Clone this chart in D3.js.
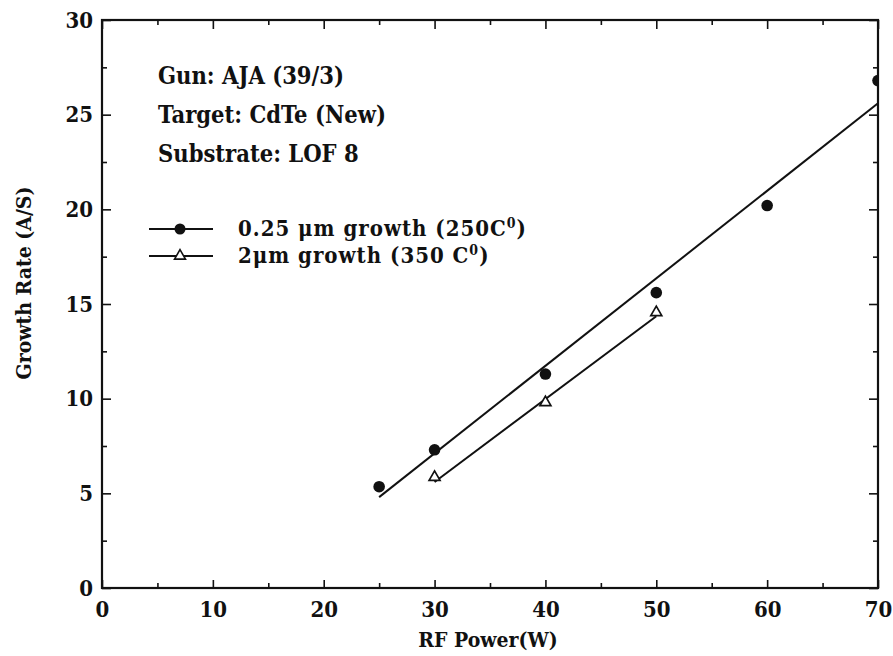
<!DOCTYPE html>
<html>
<head>
<meta charset="utf-8">
<script src="https://cdn.jsdelivr.net/npm/d3@7"></script>
<style>
  body { margin: 0; background: white; }
  text { font-family: "DejaVu Serif Condensed", "DejaVu Serif", serif; font-weight: bold; font-stretch: condensed; fill: #111; }
</style>
</head>
<body>
<div id="chart"></div>
<script>

// measured points
var powerThin = [25, 30, 40, 50, 60, 70];
var rateThin = [5.35, 7.3, 11.3, 15.6, 20.2, 26.8];

var powerThick = [30, 40, 50];
var rateThick = [5.85, 9.8, 14.55];

// fitted lines (end points)
var fitThinX = [25, 70];
var fitThinY = [4.8, 25.6];
var fitThickX = [30, 50];
var fitThickY = [5.6, 14.35];

var xMajor = [0, 10, 20, 30, 40, 50, 60, 70];
var xMinor = [5, 15, 25, 35, 45, 55, 65];
var yMajor = [0, 5, 10, 15, 20, 25, 30];
var yMinor = [2.5, 7.5, 12.5, 17.5, 22.5, 27.5];

var notes = ["Gun: AJA (39/3)", "Target: CdTe (New)", "Substrate: LOF 8"];


var width = 893, height = 656;
var margin = {left: 102, right: 15, top: 20, bottom: 68};
var w = width - margin.left - margin.right;
var h = height - margin.top - margin.bottom;

var svg = d3.select("#chart")
    .append("svg")
    .attr("width", width)
    .attr("height", height);

svg.append("rect")
    .attr("width", "100%")
    .attr("height", "100%")
    .attr("fill", "white");

var g = svg.append("g")
    .attr("transform", "translate(" + margin.left + "," + margin.top + ")");

var x = d3.scaleLinear().domain([0, 70]).range([0, w]);
var y = d3.scaleLinear().domain([0, 30]).range([h, 0]);

g.append("clipPath").attr("id", "plotclip")
    .append("rect").attr("width", w).attr("height", h);

// axes, ticks pointing inward
function styleAxis(sel) {
    sel.select(".domain").remove();
    sel.selectAll("line").attr("stroke", "#111").attr("stroke-width", 1.6);
    sel.selectAll("text").style("font-size", "22px").attr("fill", "#111");
}

g.append("g").attr("transform", "translate(0," + h + ")")
    .call(d3.axisBottom(x).tickValues(xMajor).tickSize(-8).tickPadding(13).tickFormat(d3.format("d")))
    .call(styleAxis);
g.append("g").attr("transform", "translate(0," + h + ")")
    .call(d3.axisBottom(x).tickValues(xMinor).tickSize(-5).tickFormat(""))
    .call(styleAxis);
g.append("g")
    .call(d3.axisTop(x).tickValues(xMajor).tickSize(-9).tickFormat(""))
    .call(styleAxis);
g.append("g")
    .call(d3.axisTop(x).tickValues(xMinor).tickSize(-5).tickFormat(""))
    .call(styleAxis);

g.append("g")
    .call(d3.axisLeft(y).tickValues(yMajor).tickSize(-9).tickPadding(9).tickFormat(d3.format("d")))
    .call(styleAxis);
g.append("g")
    .call(d3.axisLeft(y).tickValues(yMinor).tickSize(-5).tickFormat(""))
    .call(styleAxis);
g.append("g").attr("transform", "translate(" + w + ",0)")
    .call(d3.axisRight(y).tickValues(yMajor).tickSize(-9).tickFormat(""))
    .call(styleAxis);
g.append("g").attr("transform", "translate(" + w + ",0)")
    .call(d3.axisRight(y).tickValues(yMinor).tickSize(-5).tickFormat(""))
    .call(styleAxis);

// frame
g.append("rect")
    .attr("width", w)
    .attr("height", h)
    .attr("fill", "none")
    .attr("stroke", "#111")
    .attr("stroke-width", 2.2);

// axis titles
svg.append("text")
    .attr("x", 488)
    .attr("y", 647)
    .attr("text-anchor", "middle")
    .style("font-size", "21px")
    .text("RF Power(W)");

svg.append("text")
    .attr("transform", "translate(31,283) rotate(-90)")
    .attr("text-anchor", "middle")
    .style("font-size", "21px")
    .text("Growth Rate (A/S)");

var plot = g.append("g").attr("clip-path", "url(#plotclip)");

var line = d3.line()
    .x(function(d) { return x(d[0]); })
    .y(function(d) { return y(d[1]); });

plot.append("path")
    .datum(d3.zip(fitThinX, fitThinY))
    .attr("d", line)
    .attr("fill", "none")
    .attr("stroke", "#111")
    .attr("stroke-width", 2);

plot.append("path")
    .datum(d3.zip(fitThickX, fitThickY))
    .attr("d", line)
    .attr("fill", "none")
    .attr("stroke", "#111")
    .attr("stroke-width", 2);

plot.selectAll("circle.pt")
    .data(d3.zip(powerThin, rateThin))
    .enter().append("circle")
    .attr("class", "pt")
    .attr("cx", function(d) { return x(d[0]); })
    .attr("cy", function(d) { return y(d[1]); })
    .attr("r", 5.8)
    .attr("fill", "#111");

var tri = d3.symbol().type(d3.symbolTriangle).size(52);

plot.selectAll("path.tri")
    .data(d3.zip(powerThick, rateThick))
    .enter().append("path")
    .attr("class", "tri")
    .attr("d", tri)
    .attr("transform", function(d) { return "translate(" + x(d[0]) + "," + y(d[1]) + ")"; })
    .attr("fill", "white")
    .attr("stroke", "#111")
    .attr("stroke-width", 1.7);

// annotation text
g.selectAll("text.note")
    .data(notes)
    .enter().append("text")
    .attr("class", "note")
    .attr("x", 56)
    .attr("y", function(d, i) { return 64 + i * 39; })
    .style("font-size", "23.5px")
    .text(function(d) { return d; });

// legend
var legend = g.append("g").attr("transform", "translate(47,209)");

var legendItems = [
    {label: "0.25 \u03bcm growth (250C", sup: "0", after: ")", marker: "circle"},
    {label: "2\u03bcm growth (350 C", sup: "0", after: ")", marker: "tri"}
];

legendItems.forEach(function(d, i) {
    var row = legend.append("g").attr("transform", "translate(0," + i * 27 + ")");
    row.append("line")
        .attr("x1", 0).attr("x2", 64)
        .attr("stroke", "#111").attr("stroke-width", 2);
    if (d.marker == "circle") {
        row.append("circle").attr("cx", 31).attr("r", 5.5).attr("fill", "#111");
    } else {
        row.append("path").attr("d", tri).attr("transform", "translate(31,0)")
            .attr("fill", "white").attr("stroke", "#111").attr("stroke-width", 1.6);
    }
    var t = row.append("text")
        .attr("x", 89)
        .attr("y", 7)
        .style("font-size", "22px")
        .style("letter-spacing", "1px");
    t.append("tspan").text(d.label);
    t.append("tspan").attr("dy", -8).style("font-size", "14px").text(d.sup);
    t.append("tspan").attr("dy", 8).text(d.after);
});

</script>
</body>
</html>
